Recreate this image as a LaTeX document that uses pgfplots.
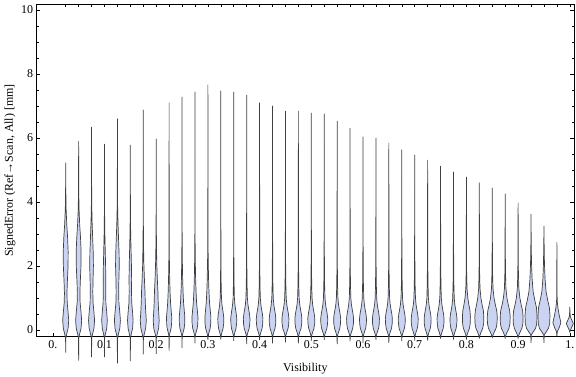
\documentclass[border=0pt]{standalone}
\usepackage{pgfplots}
\pgfplotsset{compat=1.18}
\usepackage{fontspec}
\setmainfont{Liberation Serif}
\definecolor{vfill}{RGB}{203,211,243}
\def\pxu{0.001934}
% violin profiles: y / fraction of maximal half width
\def\shapeA{-0.25/0.05,-0.1/0.4,0.05/0.8,0.3/1,0.55/0.8,0.85/0.5,1.15/0.42,1.5/0.55,2.0/0.78,2.45/0.82,2.9/0.62,3.3/0.35,3.8/0.13,4.4/0.04}
\def\shapeB{-0.25/0.05,-0.1/0.4,0.05/0.8,0.3/1,0.55/0.8,0.85/0.5,1.2/0.42,1.6/0.5,2.0/0.62,2.4/0.56,2.9/0.36,3.4/0.18,3.9/0.07,4.5/0.03}
\def\shapeC{-0.25/0.05,-0.1/0.4,0.05/0.8,0.3/1,0.55/0.8,0.85/0.5,1.2/0.42,1.6/0.46,2.0/0.4,2.5/0.26,3.0/0.13,3.6/0.05,4.3/0.02}
\def\shapeD{-0.25/0.05,-0.1/0.4,0.05/0.8,0.3/1,0.6/0.8,0.9/0.65,1.2/0.58,1.5/0.42,2.0/0.22,2.6/0.1,3.3/0.04,4.0/0.02}
\def\shapeL{-0.2/0.05,-0.08/0.35,0.05/0.75,0.2/0.95,0.4/1,0.6/0.8,0.85/0.55,1.2/0.36,1.6/0.22,2.2/0.1,3.0/0.04,4.0/0.02}
\def\shapeE{-0.2/0.05,-0.08/0.35,0.05/0.75,0.2/0.95,0.35/1,0.5/0.85,0.65/0.6,0.8/0.38,1.0/0.22,1.4/0.12,2.0/0.06,3.0/0.03,4.0/0.02}
\def\shapeF{-0.2/0.05,-0.08/0.35,0.05/0.75,0.2/0.95,0.4/1,0.6/0.9,0.8/0.6,1.0/0.35,1.3/0.15,1.8/0.06,2.5/0.03}
\def\shapeG{-0.15/0.05,-0.05/0.4,0.05/0.75,0.2/0.95,0.45/1,0.7/0.9,0.95/0.6,1.2/0.35,1.6/0.18,2.1/0.08,2.7/0.03}
\def\shapeH{-0.05/0.1,0.05/0.5,0.23/1,0.45/0.6,0.7/0.25,0.9/0.08,1.3/0.03}
\def\shapeI{-0.02/0.1,0.05/0.4,0.2/1,0.32/0.5,0.42/0.15,0.55/0.05}
% #1 centre, #2 lowest value, #3 highest value, #4 max half width (px), #5 profile
\newcommand\violin[5]{%
  \edef\vknots{#2/0,\csname shape#5\endcsname,#3/0}%
  \gdef\vR{}\gdef\vL{}%
  \foreach \yy/\ff in \vknots {%
    \pgfmathsetmacro\xr{#1+\ff*#4*\pxu}%
    \pgfmathsetmacro\xl{#1-\ff*#4*\pxu}%
    \xdef\vR{\vR (\xr,\yy)}%
    \xdef\vL{(\xl,\yy) \vL}%
  }%
  \edef\vtmp{\noexpand\addplot[violin] coordinates {\vR \vL};}%
  \vtmp
}
\begin{document}
\begin{tikzpicture}
\begin{axis}[
  scale only axis, width=537.5bp, height=332.4bp,
  xmin=-0.0315, xmax=1.0081, ymin=-0.21, ymax=10.18,
  clip=false,
  axis line style={line width=0.7bp},
  xtick={0,0.1,0.2,0.3,0.4,0.5,0.6,0.7,0.8,0.9,1},
  xticklabels={0.,0.1,0.2,0.3,0.4,0.5,0.6,0.7,0.8,0.9,1.},
  xtick pos=left,
  ytick={0,2,4,6,8,10}, yticklabels={0,2,4,6,8,10},
  minor y tick num=3, ytick pos=both,
  tick align=inside, major tick length=4bp, minor tick length=2.5bp,
  tick style={black, line width=0.5bp},
  tick label style={font=\fontsize{12}{14}\selectfont},
  label style={font=\fontsize{12}{14}\selectfont},
  xlabel={Visibility},
  ylabel={SignedError (Ref→Scan, All) [mm]},
  xlabel style={at={(axis description cs:0.5,-0.097)}, anchor=center},
  ylabel style={at={(axis description cs:-0.0495,0.5)}, anchor=center},
  violin/.style={draw=black!75, line width=0.7bp, fill=vfill, line join=round},
]
\violin{0.025}{-0.71}{5.22}{3.0}{A}
\violin{0.05}{-0.96}{5.90}{3.0}{A}
\violin{0.075}{-0.85}{6.34}{3.0}{B}
\violin{0.1}{-0.85}{5.81}{2.8}{C}
\violin{0.125}{-1.04}{6.60}{3.0}{B}
\violin{0.15}{-0.97}{5.78}{2.8}{C}
\violin{0.175}{-0.76}{6.88}{3.0}{D}
\violin{0.2}{-0.75}{5.97}{3.0}{D}
\violin{0.225}{-0.65}{7.10}{2.6}{L}
\violin{0.25}{-0.56}{7.28}{2.8}{L}
\violin{0.275}{-0.42}{7.44}{3.0}{L}
\violin{0.3}{-0.31}{7.66}{3.0}{L}
\violin{0.325}{-0.30}{7.47}{3.0}{E}
\violin{0.35}{-0.34}{7.44}{3.0}{E}
\violin{0.375}{-0.44}{7.34}{3.3}{E}
\violin{0.4}{-0.31}{7.10}{3.3}{E}
\violin{0.425}{-0.42}{7.00}{3.3}{E}
\violin{0.45}{-0.39}{6.84}{3.5}{E}
\violin{0.475}{-0.42}{6.84}{3.5}{E}
\violin{0.5}{-0.34}{6.78}{3.5}{E}
\violin{0.525}{-0.31}{6.75}{3.5}{E}
\violin{0.55}{-0.44}{6.53}{3.5}{E}
\violin{0.575}{-0.35}{6.31}{3.5}{E}
\violin{0.6}{-0.40}{6.03}{3.5}{E}
\violin{0.625}{-0.31}{6.00}{3.5}{E}
\violin{0.65}{-0.40}{5.84}{3.5}{E}
\violin{0.675}{-0.35}{5.63}{3.5}{E}
\violin{0.7}{-0.33}{5.47}{3.5}{E}
\violin{0.725}{-0.33}{5.31}{3.5}{E}
\violin{0.75}{-0.27}{5.12}{3.5}{E}
\violin{0.775}{-0.30}{4.94}{3.5}{E}
\violin{0.8}{-0.30}{4.78}{4.0}{F}
\violin{0.825}{-0.27}{4.60}{4.5}{F}
\violin{0.85}{-0.25}{4.44}{5.0}{F}
\violin{0.875}{-0.27}{4.25}{5.0}{F}
\violin{0.9}{-0.27}{3.97}{5.0}{F}
\violin{0.925}{-0.40}{3.62}{6.0}{G}
\violin{0.95}{-0.40}{3.25}{6.0}{G}
\violin{0.975}{-0.20}{2.74}{4.0}{H}
\violin{1.0}{-0.08}{0.71}{3.5}{I}
\coordinate (sw) at (rel axis cs:0,0);
\end{axis}
\begin{axis}[
  scale only axis, width=537.5bp, height=332.4bp,
  xmin=-0.0315, xmax=1.0081, ymin=-0.21, ymax=10.18,
  axis x line*=top, axis y line=none,
  axis line style={line width=0.7bp},
  xtick={0.025,0.05,0.075,0.1,0.125,0.15,0.175,0.2,0.225,0.25,0.275,0.3,0.325,0.35,0.375,0.4,0.425,0.45,0.475,0.5,0.525,0.55,0.575,0.6,0.625,0.65,0.675,0.7,0.725,0.75,0.775,0.8,0.825,0.85,0.875,0.9,0.925,0.95,0.975,1.0},
  xticklabels={},
  tick align=inside, major tick length=3bp,
  tick style={black, line width=0.5bp},
]
\end{axis}
\pgfresetboundingbox
\path[use as bounding box] (sw) ++(-36.5bp,-40.3bp) rectangle ++(576bp,377bp);
\end{tikzpicture}
\end{document}
